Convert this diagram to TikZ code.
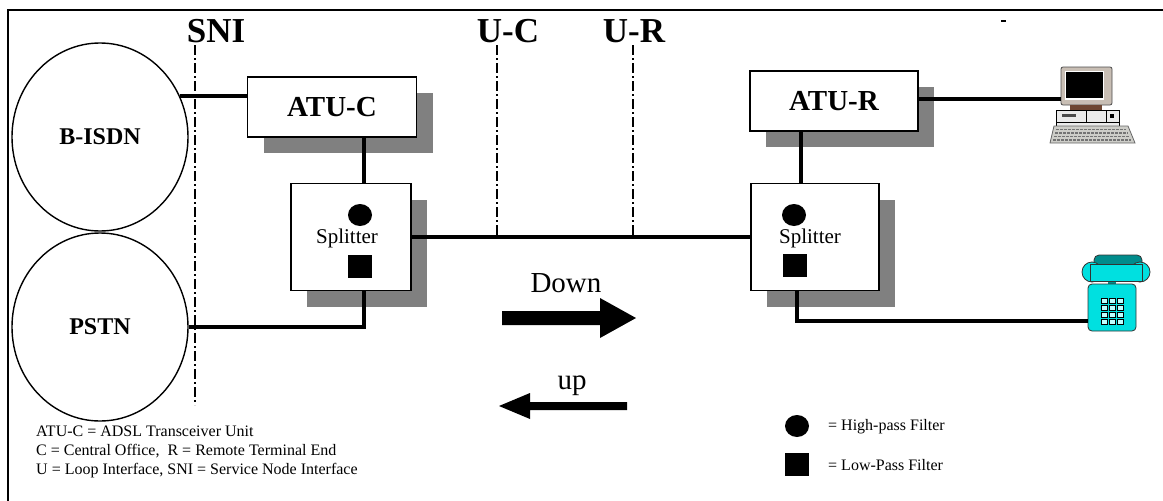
\documentclass[tikz,border=0pt]{standalone}
\usepackage{fontspec}
\setmainfont{Liberation Serif}
\usetikzlibrary{positioning,shapes.geometric,shadows,calc}
\definecolor{shadegray}{RGB}{128,128,128}
\definecolor{pcbeige}{RGB}{200,190,180}
\definecolor{pcbrown}{RGB}{110,70,50}
\definecolor{pckey}{RGB}{205,205,200}
\definecolor{telcyan}{RGB}{0,224,224}
\definecolor{telteal}{RGB}{0,140,140}
\definecolor{telkey}{RGB}{190,255,255}

\tikzset{
  link/.style={line width=4pt},
  iface/.style={line width=1.2pt, dash pattern=on 10pt off 3pt on 2pt off 3pt},
  netcloud/.style={ellipse, draw, line width=1.4pt, minimum width=176pt, minimum height=188pt,
    inner sep=0pt, font=\fontsize{24}{24}\selectfont\bfseries},
  unitbox/.style={rectangle, draw, fill=white, line width=1.8pt, inner sep=0pt,
    font=\fontsize{29}{29}\selectfont\bfseries,
    drop shadow={shadow xshift=16pt, shadow yshift=-16pt, fill=shadegray, opacity=1}},
  ifacelabel/.style={font=\fontsize{35}{35}\selectfont\bfseries},
  splitlabel/.style={font=\fontsize{21}{21}\selectfont},
  hpf/.style={ellipse, fill=black, minimum width=24pt, minimum height=22pt, inner sep=0pt},
  lpf/.style={rectangle, fill=black, minimum width=24pt, minimum height=23pt, inner sep=0pt},
  legend/.style={font=\fontsize{16}{19}\selectfont, align=left, anchor=west, inner sep=0pt},
}

\begin{document}
\begin{tikzpicture}[x=1pt,y=-1pt]
  \useasboundingbox (0,0) rectangle (1163,501);
  % frame
  \draw[line width=2pt] (8,501) -- (8,10) -- (1163,10);
  \draw[line width=2pt] (1001,21) -- (1006,21);

  % networks
  \node[netcloud] (bisdn) at (100,137) {B-ISDN};
  \node[netcloud] (pstn) at (100,327) {PSTN};

  % transceivers and splitters
  \node[unitbox, minimum width=169pt, minimum height=60pt] (atuc) at (332,107) {ATU-C};
  \node[unitbox, minimum width=168pt, minimum height=60pt] (atur) at (834,101) {ATU-R};
  \node[unitbox, minimum width=120pt, minimum height=107pt] (splitc) at (351,237) {};
  \node[unitbox, minimum width=128pt, minimum height=107pt] (splitr) at (815,237) {};
  \node[splitlabel] (splitclbl) at (347,238) {Splitter};
  \node[splitlabel] (splitrlbl) at (810,238) {Splitter};
  \node[hpf] (hpfc) at (360,215) {};
  \node[lpf] (lpfc) at (360,266) {};
  \node[hpf] (hpfr) at (794,215) {};
  \node[lpf] (lpfr) at (795,265) {};

  % interface labels and lines
  \node[ifacelabel] (sni) at (216,31) {SNI};
  \node[ifacelabel] (uc) at (508,31) {U-C};
  \node[ifacelabel] (ur) at (634,31) {U-R};
  \coordinate (snitop) at (195,45);
  \coordinate (snibot) at (195,405);
  \coordinate (uctop) at (497,45);
  \coordinate (urtop) at (633,45);
  \draw[iface] (snitop) -- (snibot);
  \draw[iface] (uctop) -- (uctop |- splitc.east);
  \draw[iface] (urtop) -- (urtop |- splitc.east);

  % computer
  \coordinate (pc) at (1061,99);
  \filldraw[fill=pcbeige, draw=black!70, line width=0.8pt, rounded corners=2pt] (1061,67) rectangle (1112,105);
  \fill[white] (1065,71) rectangle (1104,100);
  \fill[black] (1066,72) rectangle (1103,98);
  \fill[pcbrown] (1070,105) rectangle (1102,110);
  \filldraw[fill=black!8, draw=black, line width=1pt] (1056,110) rectangle (1119,126);
  \draw[line width=0.6pt] (1086,110) -- (1086,122) (1106,110) -- (1106,122) (1056,122) -- (1119,122);
  \fill[black!70] (1062,114) rectangle (1076,117);
  \fill[black] (1110,114) rectangle (1114,118);
  \filldraw[fill=pckey, draw=black!60, line width=0.8pt] (1054,126) -- (1128,126) -- (1135,143) -- (1050,143) -- cycle;
  \foreach \r in {0,...,3}
    \draw[black!55, line width=1.4pt, dash pattern=on 3pt off 1pt] (1056-\r,129.5+\r*3.5) -- (1126+\r*1.5,129.5+\r*3.5);

  % telephone
  \coordinate (phone) at (1088,321);
  \filldraw[fill=telteal, draw=black!80, line width=0.8pt, rounded corners=5pt] (1094,255) rectangle (1142,278);
  \fill[telteal] (1108,278) rectangle (1116,286);
  \filldraw[fill=telcyan, draw=black!80, line width=0.8pt, rounded corners=4pt] (1088,284) rectangle (1136,331);
  \filldraw[fill=telcyan, draw=black!80, line width=0.8pt] (1092,272) circle (10pt) (1140,272) circle (10pt);
  \filldraw[fill=telcyan, draw=black!80, line width=0.8pt] (1090,264) rectangle (1142,281);
  \foreach \c in {0,1,2}
    \foreach \r in {0,...,3}
      \filldraw[fill=telkey, draw=black, line width=0.6pt] (1101+\c*8,298+\r*7) rectangle ++(6,5);

  % links
  \coordinate (cdrop) at (364,0);
  \coordinate (rdrop) at (801,0);
  \coordinate (rtel) at (797,0);
  \draw[link] (bisdn.27) -- (bisdn.27 -| atuc.west);
  \draw[link] (cdrop |- splitc.south) |- (pstn.east);
  \draw[link] (cdrop |- atuc.south) -- (cdrop |- splitc.north);
  \draw[link] (splitc.east) -- (splitr.west);
  \draw[link] (rdrop |- atur.south) -- (rdrop |- splitr.north);
  \draw[link] (rtel |- splitr.south) |- (phone);
  \draw[link] (pc -| atur.east) -- (pc);

  % direction arrows
  \node[font=\fontsize{29}{29}\selectfont] (down) at (566,283) {Down};
  \node[font=\fontsize{29}{29}\selectfont] (up) at (572,386) {up};
  \fill (502,311) -- (600,311) -- (600,298) -- (636,318) -- (600,338) -- (600,325) -- (502,325) -- cycle;
  \fill (627,402) -- (530,402) -- (530,393) -- (499,406) -- (530,419) -- (530,410) -- (627,410) -- cycle;

  % legend
  \node[legend] (abbr) at (36,452) {ATU-C = ADSL Transceiver Unit\\
    C = Central Office,\ \ R = Remote Terminal End\\
    U = Loop Interface, SNI = Service Node Interface};
  \node[hpf] (hpfkey) at (797,426) {};
  \node[lpf] (lpfkey) at (797,464) {};
  \node[legend] (hpftext) at (828,427) {= High-pass Filter};
  \node[legend] (lpftext) at (828,465) {= Low-Pass Filter};
\end{tikzpicture}
\end{document}
